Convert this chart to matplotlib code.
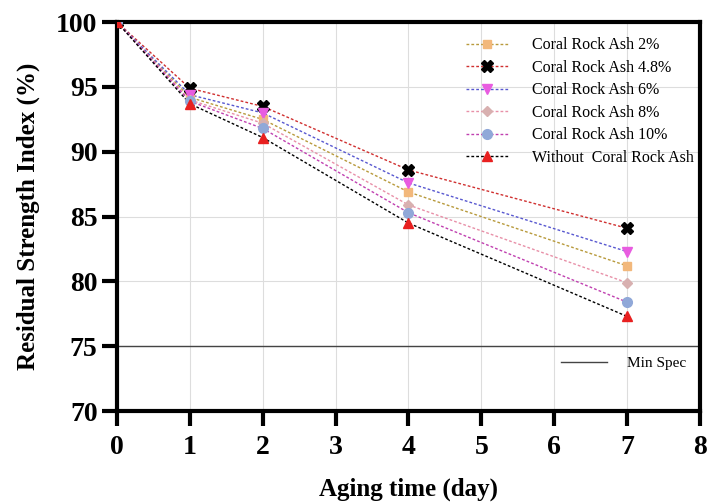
import matplotlib.pyplot as plt
from matplotlib.lines import Line2D

days = [0, 1, 2, 4, 7]
ash_2 = [100, 94.2, 92.5, 86.9, 81.2]
ash_48 = [100, 94.9, 93.5, 88.6, 84.1]
ash_6 = [100, 94.4, 93.0, 87.6, 82.3]
ash_8 = [100, 94.0, 92.2, 85.9, 79.9]
ash_10 = [100, 93.9, 91.8, 85.3, 78.4]
no_ash = [100, 93.7, 91.1, 84.5, 77.3]
min_spec = 75

labels = ['Coral Rock Ash 2%', 'Coral Rock Ash 4.8%', 'Coral Rock Ash 6%',
          'Coral Rock Ash 8%', 'Coral Rock Ash 10%', 'Without  Coral Rock Ash']

plt.rcParams['font.family'] = ['Liberation Serif', 'DejaVu Serif']

fig = plt.figure(figsize=(7.07, 5.04), dpi=100)
ax = fig.add_axes([0.1655, 0.1845, 0.8245, 0.7715])

# (values, line colour, marker, marker colour, marker size)
styles = [
    (ash_2, '#b89a3c', 's', '#f2b87c', 6),
    (ash_48, '#d03030', 'X', 'black', 8),
    (ash_6, '#5858d0', 'v', '#e85ce0', 7),
    (ash_8, '#e890a8', 'D', '#d8b0b0', 5),
    (ash_10, '#c040b0', 'o', '#90a8d8', 7),
    (no_ash, 'black', '^', '#e82020', 7),
]

handles = []
for (vals, lc, mk, mc, ms), lab in zip(styles, labels):
    ax.plot(days, vals, ls=(0, (2, 1.5)), lw=1.0, color=lc, zorder=3)
    ax.plot(days, vals, ls='none', marker=mk, color=mc, ms=ms, zorder=4)
    handles.append(Line2D([], [], ls=(0, (2, 1.5)), lw=1.0, color=lc,
                          marker=mk, mfc=mc, mec=mc, ms=ms))

spec = ax.axhline(min_spec, color='#444444', lw=1.0, zorder=2)

leg1 = ax.legend(handles, labels, loc='upper right', frameon=False,
                 fontsize=11.5, handlelength=2.6, labelspacing=0.41,
                 bbox_to_anchor=(1.008, 0.99), handletextpad=1.5,
                 borderaxespad=0.3)
ax.add_artist(leg1)
ax.legend([Line2D([], [], color='#444444', lw=1.0)], ['Min Spec'],
          loc='lower right', frameon=False, fontsize=11, handlelength=3.0,
          handletextpad=1.3, bbox_to_anchor=(1.0, 0.07))

ax.set_xlim(0, 8)
ax.set_ylim(70, 100)
ax.set_xticks(range(0, 9))
ax.set_yticks(range(70, 101, 5))
ax.grid(True, color='#dddddd', lw=0.8)
ax.set_axisbelow(True)

for s in ax.spines.values():
    s.set_linewidth(3)
ax.tick_params(axis='both', width=3, length=11, labelsize=20, pad=3)
for t in ax.get_xticklabels() + ax.get_yticklabels():
    t.set_fontweight('bold')
ax.tick_params(axis='x', pad=6)

ax.set_xlabel('Aging time (day)', fontsize=18, fontweight='bold', labelpad=13)
ax.set_ylabel('Residual Strength Index (%)', fontsize=18, fontweight='bold',
              labelpad=12)

fig.savefig('out.png', dpi=100)
